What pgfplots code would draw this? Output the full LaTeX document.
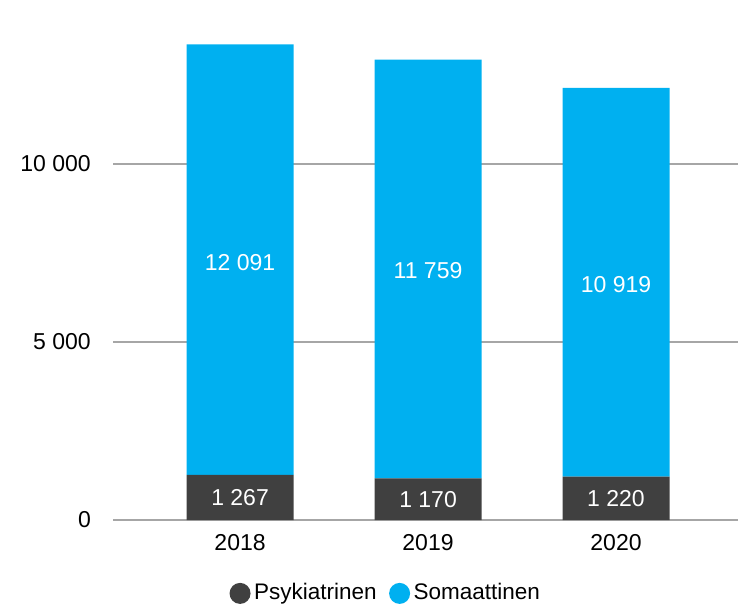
\documentclass[border=0pt]{standalone}
\usepackage{pgfplots}
\pgfplotsset{compat=1.18}
\usepackage{fontspec}
\setmainfont{Liberation Sans}
\definecolor{darkc}{HTML}{404040}
\definecolor{bluec}{HTML}{00B0F0}
\definecolor{gridc}{HTML}{A6A6A6}
\newcommand{\fs}{\fontsize{23}{27}\selectfont}
\newcommand{\fl}{\fontsize{22.5}{27}\selectfont}
\begin{document}
\begin{tikzpicture}
\useasboundingbox (0pt,0pt) rectangle (738pt,-608pt);
\begin{axis}[
  at={(113pt,-520pt)}, anchor=south west,
  scale only axis, width=625pt, height=516.2pt,
  ybar stacked, bar width=107pt,
  xmin=-0.676, xmax=2.649, ymin=0, ymax=14500,
  scaled y ticks=false,
  xtick={0,1,2}, xticklabels={2018,2019,2020},
  ytick={0,5000,10000}, yticklabels={0,5 000,10 000},
  ymajorgrids, grid style={gridc, line width=1.3pt},
  axis line style={draw=none}, major tick length=0pt,
  tick label style={font=\fs, text=black},
  yticklabel style={inner sep=0pt, xshift=-22pt},
  xticklabel style={inner sep=0pt, yshift=-14.5pt},
  legend columns=2,
  legend style={at={(0.436,-0.1414)}, anchor=center, draw=none, fill=none, font=\fl,
    nodes={inner sep=1.5pt, anchor=base},
    /tikz/every odd column/.append style={column sep=2pt},
    /tikz/every even column/.append style={column sep=11pt}},
]
\addplot[fill=darkc, draw=none,
  legend image code/.code={\fill[darkc] (10.5pt,6.5pt) circle (10.5pt);}]
  coordinates {(0,1267) (1,1170) (2,1220)};
\addlegendentry{Psykiatrinen}
\addplot[fill=bluec, draw=none,
  legend image code/.code={\fill[bluec] (10.5pt,6.5pt) circle (10.5pt);}]
  coordinates {(0,12091) (1,11759) (2,10919)};
\addlegendentry{Somaattinen}
\end{axis}
\begin{axis}[
  at={(113pt,-520pt)}, anchor=south west,
  scale only axis, width=625pt, height=516.2pt,
  xmin=-0.676, xmax=2.649, ymin=0, ymax=14500,
  hide axis, scaled y ticks=false,
  nodes near coords, point meta=explicit symbolic,
  every node near coord/.append style={anchor=center, text=white, font=\fs, inner sep=0pt},
]
\addplot[only marks, mark=none] table[col sep=comma, meta=lab] {
x,y,lab
0,633.5,1 267
1,585,1 170
2,610,1 220
0,7230,12 091
1,7000,11 759
2,6620,10 919
};
\end{axis}
\end{tikzpicture}
\end{document}
